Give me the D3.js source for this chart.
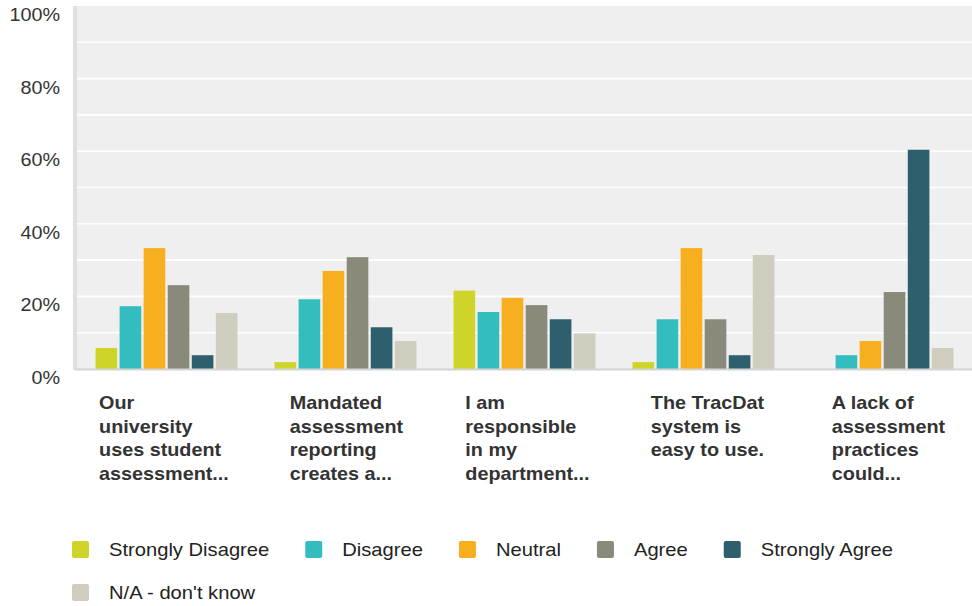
<!DOCTYPE html>
<html>
<head>
<meta charset="utf-8">
<script src="https://cdn.jsdelivr.net/npm/d3@7"></script>
<style>
  html, body { margin: 0; padding: 0; background: #fff; }
  svg { display: block; font-family: "Liberation Sans", Arial, sans-serif; }
</style>
</head>
<body>
<svg id="chart" width="972" height="606"></svg>
<script>
const categories = [
  ["Our", "university", "uses student", "assessment..."],
  ["Mandated", "assessment", "reporting", "creates a..."],
  ["I am", "responsible", "in my", "department..."],
  ["The TracDat", "system is", "easy to use."],
  ["A lack of", "assessment", "practices", "could..."]
];
const seriesNames = ["Strongly Disagree", "Disagree", "Neutral", "Agree", "Strongly Agree", "N/A - don't know"];
const seriesColors = ["#cfd42a", "#33bdbf", "#f7ae1f", "#8a8a7a", "#2e5f6d", "#cfcdbe"];
// values in percent, one array per series (across the 5 categories)
const stronglyDisagree = [5.8, 1.9, 21.6, 1.9, 0];
const disagree         = [17.3, 19.2, 15.7, 13.7, 3.8];
const neutral          = [33.3, 27.0, 19.6, 33.3, 7.7];
const agree            = [23.1, 30.8, 17.6, 13.7, 21.2];
const stronglyAgree    = [3.8, 11.5, 13.7, 3.8, 60.4];
const naDontKnow       = [15.4, 7.7, 9.8, 31.4, 5.8];
const yTicks = [0, 20, 40, 60, 80, 100];
const gridValues = [10, 20, 30, 40, 50, 60, 70, 80, 90];

const seriesValues = [stronglyDisagree, disagree, neutral, agree, stronglyAgree, naDontKnow];

const svg = d3.select("#chart");
const plot = { left: 77, right: 972, top: 6, bottom: 369 };
const SX = 1.1; // horizontal text stretch

const y = d3.scaleLinear().domain([0, 100]).range([plot.bottom, plot.top]);
const x0 = d3.scaleBand().domain(d3.range(categories.length))
  .range([plot.left, plot.right]).paddingInner(0.207).paddingOuter(0.1035);
const x1 = d3.scaleBand().domain(d3.range(seriesNames.length))
  .range([0, x0.bandwidth()]).paddingInner(0.1).paddingOuter(0);

// background
svg.append("rect").attr("x", plot.left).attr("y", plot.top)
  .attr("width", plot.right - plot.left).attr("height", plot.bottom - plot.top)
  .attr("fill", "#efefef");
// left axis bar
svg.append("rect").attr("x", 73).attr("y", plot.top)
  .attr("width", 4).attr("height", plot.bottom - plot.top + 1).attr("fill", "#e0e0e0");

// gridlines
svg.append("g").selectAll("line").data(gridValues).join("line")
  .attr("x1", plot.left).attr("x2", plot.right)
  .attr("y1", d => y(d)).attr("y2", d => y(d))
  .attr("stroke", "#ffffff").attr("stroke-width", 1.6);

// bars
const groups = svg.append("g").selectAll("g").data(categories).join("g")
  .attr("transform", (d, i) => `translate(${x0(i)},0)`);
groups.selectAll("rect")
  .data((d, i) => seriesValues.map((s, j) => ({ j, v: s[i] })))
  .join("rect")
  .attr("x", d => x1(d.j))
  .attr("width", x1.bandwidth())
  .attr("y", d => y(d.v))
  .attr("height", d => y(0) - y(d.v))
  .attr("fill", d => seriesColors[d.j]);

// baseline
svg.append("rect").attr("x", 75).attr("y", plot.bottom - 0.5)
  .attr("width", plot.right - 75).attr("height", 2).attr("fill", "#d4d4d4");

// y labels
svg.append("g").selectAll("text").data(yTicks).join("text")
  .attr("transform", d => `translate(60,${y(d) + 15}) scale(${SX},1)`)
  .attr("text-anchor", "end")
  .attr("font-size", 18)
  .attr("fill", "#333")
  .text(d => d + "%");

// category labels
const labelShift = [-2.5, 1, 3, 4, 6];
categories.forEach((lines, i) => {
  const g = svg.append("g");
  const texts = g.selectAll("text").data(lines).join("text")
    .attr("font-size", 18).attr("font-weight", "bold").attr("fill", "#333")
    .text(d => d);
  let maxW = 0;
  texts.each(function () { maxW = Math.max(maxW, this.getComputedTextLength()); });
  maxW *= SX;
  const cx = x0(i) + x0.bandwidth() / 2 + labelShift[i];
  const left = cx - maxW / 2;
  texts.attr("transform", (d, k) => `translate(${left},${409 + k * 23.5}) scale(${SX},1)`);
});

// legend
const LSX = 1.12;
const legend = svg.append("g");
let lx = 72, ly = 541;
seriesNames.forEach((name, j) => {
  const t = legend.append("text")
    .attr("font-size", 18).attr("fill", "#222").text(name);
  const w = t.node().getComputedTextLength() * LSX;
  if (lx + 37 + w > 960) { lx = 72; ly += 43; }
  legend.append("rect").attr("x", lx).attr("y", ly)
    .attr("width", 17).attr("height", 17).attr("rx", 2)
    .attr("fill", seriesColors[j]);
  t.attr("transform", `translate(${lx + 37},${ly + 15}) scale(${LSX},1)`);
  lx = lx + 37 + w + 36;
});
</script>
</body>
</html>
